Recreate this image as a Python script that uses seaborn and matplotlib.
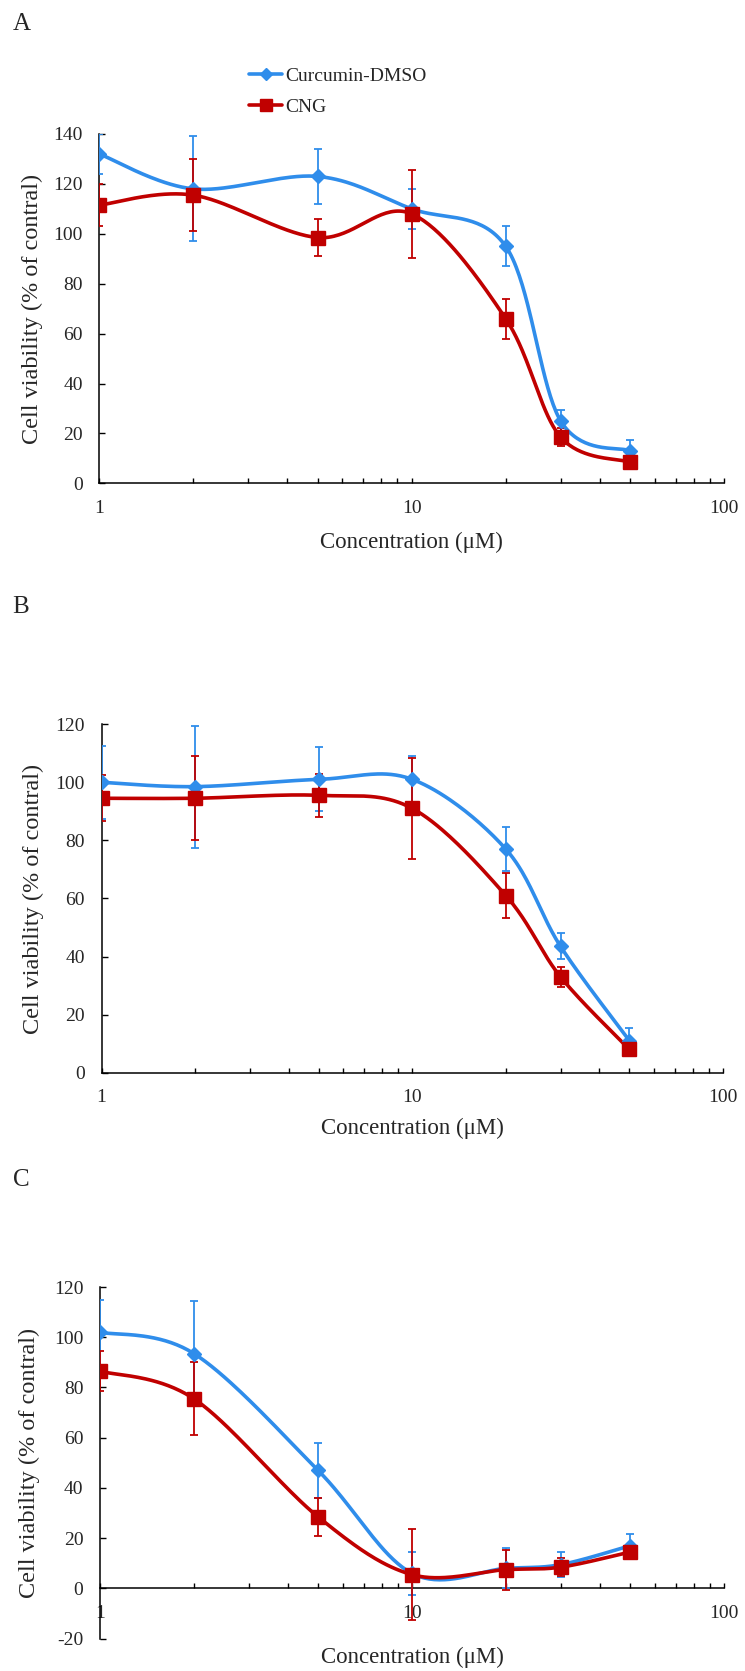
import numpy as np
import matplotlib
matplotlib.use("Agg")
import matplotlib.pyplot as plt
import seaborn as sns
import pandas as pd
from matplotlib.lines import Line2D
from matplotlib.ticker import LogLocator, NullFormatter, FixedLocator, FixedFormatter

# ---------------- data ----------------
conc = [1, 2, 5, 10, 20, 30, 50]
series_names = ["Curcumin-DMSO", "CNG"]

A_curc = [132, 118, 123, 110, 95, 25, 13]
A_curc_err = [8, 21, 11, 8, 8, 4.5, 4.5]
A_cng = [111.5, 115.5, 98.5, 108, 66, 18.5, 8.5]
A_cng_err = [8.5, 14.5, 7.5, 17.5, 8, 3.5, 2]

B_curc = [100, 98.5, 101, 101, 77, 43.5, 11]
B_curc_err = [12.5, 21, 11, 8, 7.5, 4.5, 4.5]
B_cng = [94.5, 94.5, 95.5, 91, 61, 33, 8]
B_cng_err = [8, 14.5, 7.5, 17.5, 7.7, 3.5, 2]

C_curc = [102, 93.5, 47, 6, 8, 9.5, 17]
C_curc_err = [13, 21, 11, 8.5, 8, 5, 4.5]
C_cng = [86.5, 75.5, 28.5, 5.5, 7.5, 8.5, 14.5]
C_cng_err = [8, 14.5, 7.5, 18, 8, 3.5, 2]

panel_labels = ["A", "B", "C"]
yticks_A = [0, 20, 40, 60, 80, 100, 120, 140]
yticks_B = [0, 20, 40, 60, 80, 100, 120]
yticks_C = [-20, 0, 20, 40, 60, 80, 100, 120]
xticks = [1, 10, 100]
xlabel = "Concentration (\u03bcM)"
ylabel = "Cell viability (% of contral)"

# ---------------- style ----------------
sns.set_style("white")
plt.rcParams["font.family"] = ["Liberation Serif", "DejaVu Serif"]

BLUE = "#2F8DEB"
RED = "#C00000"


def smooth(xs, ys, n=40):
    """Excel-like smoothed line (Catmull-Rom Bezier) in log-x space."""
    u = np.log10(np.asarray(xs, float))
    y = np.asarray(ys, float)
    P = np.column_stack([u, y])
    m = len(P)
    out = []
    t = np.linspace(0, 1, n)
    for i in range(m - 1):
        p0 = P[i - 1] if i > 0 else P[i]
        p1 = P[i]
        p2 = P[i + 1]
        p3 = P[i + 2] if i + 2 < m else P[i + 1]
        c1 = p1 + (p2 - p0) / 6.0
        c2 = p2 - (p3 - p1) / 6.0
        seg = ((1 - t)[:, None] ** 3 * p1 + 3 * ((1 - t) ** 2 * t)[:, None] * c1
               + 3 * ((1 - t) * t ** 2)[:, None] * c2 + (t ** 3)[:, None] * p2)
        out.append(seg if i == 0 else seg[1:])
    out = np.vstack(out)
    return 10 ** out[:, 0], out[:, 1]


fig = plt.figure(figsize=(7.45, 16.71), dpi=100)

W, H = 745.0, 1671.0
# (left px, right px, top px, bottom px)
boxes = [(99.3, 724.0, 134.0, 483.3),
         (101.5, 723.0, 724.2, 1072.7),
         (100.0, 724.0, 1287.0, 1638.7)]
ylims = [(0, 140), (0, 120), (-20, 120)]
ytick_sets = [yticks_A, yticks_B, yticks_C]
data = [(A_curc, A_curc_err, A_cng, A_cng_err),
        (B_curc, B_curc_err, B_cng, B_cng_err),
        (C_curc, C_curc_err, C_cng, C_cng_err)]
label_pos = [(22, 24), (21, 607), (21, 1180)]
xlab_y = [542, 1128, 1657]
ylab_x = [32, 33, 29]

for k in range(3):
    l, r, t, b = boxes[k]
    ax = fig.add_axes([l / W, 1 - b / H, (r - l) / W, (b - t) / H])
    ax.set_xscale("log")
    ax.set_xlim(1, 100)
    ax.set_ylim(*ylims[k])

    curc, curc_err, cng, cng_err = data[k]
    for vals, errs, col, mk, ms in [(curc, curc_err, BLUE, "D", 7.0),
                                     (cng, cng_err, RED, "s", 9.5)]:
        ax.errorbar(conc, vals, yerr=errs, fmt="none", ecolor=col,
                    elinewidth=1.3, capsize=3.0, capthick=1.3, zorder=3)
        sx, sy = smooth(conc, vals)
        sns.lineplot(x=sx, y=sy, ax=ax, color=col, linewidth=2.6,
                     sort=False, estimator=None, zorder=4, legend=False)
        ax.plot(conc, vals, linestyle="none", marker=mk, markersize=ms,
                color=col, markeredgecolor=col, zorder=5)

    # spines
    for s in ["top", "right"]:
        ax.spines[s].set_visible(False)
    ax.spines["bottom"].set_position(("data", 0))
    for s in ["left", "bottom"]:
        ax.spines[s].set_color("black")
        ax.spines[s].set_linewidth(1.1)

    ax.yaxis.set_major_locator(FixedLocator(ytick_sets[k]))
    ax.set_yticklabels([str(v) for v in ytick_sets[k]])
    ax.xaxis.set_major_locator(FixedLocator(xticks))
    ax.xaxis.set_major_formatter(FixedFormatter([str(v) for v in xticks]))
    ax.xaxis.set_minor_locator(LogLocator(base=10, subs=np.arange(2, 10)))
    ax.xaxis.set_minor_formatter(NullFormatter())

    ax.tick_params(axis="y", which="major", direction="in", length=4.5,
                   width=1.0, color="black", labelsize=14, pad=12,
                   left=True)
    ax.tick_params(axis="x", which="both", direction="in", length=3.8,
                   width=1.0, color="black", labelsize=14, pad=12,
                   bottom=True)
    ax.grid(False)

    ax.set_xlabel(xlabel, fontsize=16.5)
    ax.set_ylabel(ylabel, fontsize=17.5)
    ax.xaxis.set_label_coords(((l + r) / 2 - l) / (r - l),
                              -(xlab_y[k] - b) / (b - t))
    ax.xaxis.label.set_va("center")
    ax.yaxis.set_label_coords(-(l - ylab_x[k]) / (r - l), 0.5)
    ax.yaxis.label.set_va("center")

    lx, ly = label_pos[k]
    fig.text(lx / W, 1 - ly / H, panel_labels[k], fontsize=18,
             ha="center", va="center")

    if k == 0:
        handles = [Line2D([], [], color=BLUE, lw=2.6, marker="D", markersize=6.5),
                   Line2D([], [], color=RED, lw=2.6, marker="s", markersize=8.5)]
        fig.legend(handles, series_names, loc="upper left",
                   bbox_to_anchor=(249 / W, 1 - 67 / H), frameon=False,
                   fontsize=14, handlelength=1.7, handletextpad=0.15,
                   labelspacing=0.72, borderpad=0, borderaxespad=0)

fig.savefig("out.png", dpi=100, facecolor="white")
